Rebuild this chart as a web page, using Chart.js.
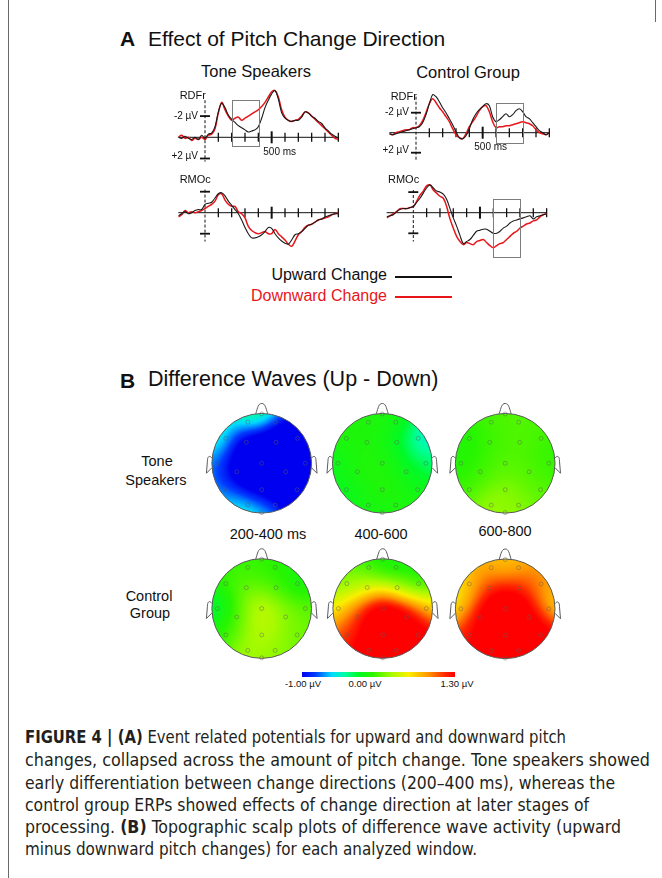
<!DOCTYPE html>
<html>
<head>
<meta charset="utf-8">
<script src="https://cdn.jsdelivr.net/npm/chart.js@4.4.1/dist/chart.umd.min.js"></script>
<style>
  html, body { margin: 0; padding: 0; background: #fff; }
  #fig { position: relative; width: 662px; height: 878px; overflow: hidden;
         font-family: "Liberation Sans", Arial, Helvetica, sans-serif; color: #111; }
  .t { position: absolute; white-space: nowrap; line-height: 1; }
  .c { transform: translate(-50%, -50%); }
  .l { transform: translateY(-50%); }
  .r { transform: translate(-100%, -50%); }
  canvas { position: absolute; }
  .cap { position: absolute; left: 25px; white-space: nowrap; line-height: 1;
         font-family: "Liberation Sans Narrow", "DejaVu Sans Condensed", "Liberation Sans", Arial, sans-serif;
         font-size: 17.5px; color: #231f20; transform-origin: 0 50%; }
  .rule { position: absolute; background: #6a6a6a; width: 1px; }
  .swatch { position: absolute; height: 2.5px; }
</style>
</head>
<body>
<div id="fig">
  <div class="rule" style="left:8px; top:0; height:878px;"></div>
  <div class="rule" style="left:655px; top:0; height:22px;"></div>

  <div class="t l" style="left:120px; top:38px; font-size:21px; font-weight:bold;">A</div>
  <div class="t l" style="left:148px; top:38px; font-size:21px;">Effect of Pitch Change Direction</div>
  <div class="t c" style="left:256px; top:71px; font-size:16.5px;">Tone Speakers</div>
  <div class="t c" style="left:468px; top:72px; font-size:16.5px;">Control Group</div>

  <div class="t r" style="left:387px; top:275px; font-size:16px;">Upward Change</div>
  <div class="swatch" style="left:395px; top:275.5px; width:57px; background:#111;"></div>
  <div class="t r" style="left:387px; top:296px; font-size:16px; color:#e8161b;">Downward Change</div>
  <div class="swatch" style="left:395px; top:295.5px; width:57px; background:#e8161b;"></div>

  <div class="t l" style="left:120px; top:380px; font-size:21px; font-weight:bold;">B</div>
  <div class="t l" style="left:148px; top:380px; font-size:21.5px;">Difference Waves (Up - Down)</div>

  <div class="t c" style="left:157px; top:461px; font-size:14.5px;">Tone</div>
  <div class="t c" style="left:156px; top:480px; font-size:14.5px;">Speakers</div>
  <div class="t c" style="left:149px; top:596px; font-size:14.5px;">Control</div>
  <div class="t c" style="left:150px; top:613px; font-size:14.5px;">Group</div>

  <div class="t c" style="left:268px; top:534px; font-size:14.5px;">200-400 ms</div>
  <div class="t c" style="left:381px; top:534px; font-size:14.5px;">400-600</div>
  <div class="t c" style="left:505px; top:531px; font-size:14.5px;">600-800</div>

  <div class="t c" style="left:303px; top:684px; font-size:9.5px;">-1.00 µV</div>
  <div class="t c" style="left:365px; top:684px; font-size:9.5px;">0.00 µV</div>
  <div class="t c" style="left:457px; top:684px; font-size:9.5px;">1.30 µV</div>

  <div class="cap" data-w="541" style="top:729px;"><b>FIGURE 4 | (A)</b> Event related potentials for upward and downward pitch</div>
  <div class="cap" data-w="625" style="top:752px;">changes, collapsed across the amount of pitch change. Tone speakers showed</div>
  <div class="cap" data-w="590" style="top:775px;">early differentiation between change directions (200–400 ms), whereas the</div>
  <div class="cap" data-w="564" style="top:797px;">control group ERPs showed effects of change direction at later stages of</div>
  <div class="cap" data-w="596" style="top:819px;">processing. <b>(B)</b> Topographic scalp plots of difference wave activity (upward</div>
  <div class="cap" data-w="452" style="top:841px;">minus downward pitch changes) for each analyzed window.</div>
</div>

<script>
// ---------- ERP waveforms (µV, negative plotted upward), sampled every 25 ms ----------
const times = [-200,-175,-150,-125,-100,-75,-50,-25,0,25,50,75,100,125,150,175,200,225,250,275,300,325,350,375,400,
               425,450,475,500,525,550,575,600,625,650,675,700,725,750,775,800,825,850,875,900,925,950,975,1000];

const toneRDFrUp   = [0.0,0.1,-0.1,0.1,0.2,0.0,0.2,-0.2,0.1,-0.3,-0.4,-1.0,-2.4,-3.2,-2.8,-2.1,-1.7,-1.4,-1.1,-0.9,-0.7,-0.5,-0.6,-0.7,-1.0,
                      -1.8,-2.8,-3.5,-4.1,-4.4,-3.6,-2.3,-1.8,-1.6,-1.5,-1.6,-1.6,-1.9,-2.4,-2.3,-2.0,-1.8,-1.5,-1.3,-0.9,-0.6,-0.3,-0.1,0.1];
const toneRDFrDown = [0.0,-0.2,0.1,0.0,0.3,0.1,0.2,0.0,0.2,-0.2,-0.3,-0.8,-2.3,-3.3,-2.6,-2.0,-1.6,-1.8,-1.9,-1.6,-1.8,-2.0,-2.2,-2.4,-2.6,
                      -2.9,-3.3,-3.8,-4.3,-4.4,-3.8,-2.6,-1.9,-1.6,-1.5,-1.6,-1.7,-2.0,-2.4,-2.3,-2.0,-1.7,-1.4,-1.1,-0.8,-0.5,-0.2,0.1,0.2];
const ctrlRDFrUp   = [0.1,0.2,0.1,0.0,-0.1,-0.2,-0.3,-0.4,-0.5,-0.6,-1.0,-1.8,-2.9,-3.8,-3.6,-3.1,-2.5,-2.0,-1.4,-0.8,-0.1,0.5,0.6,0.3,-0.4,
                      -1.3,-1.9,-2.3,-2.6,-2.9,-2.7,-1.6,-1.1,-1.3,-1.6,-1.9,-1.6,-1.8,-2.2,-2.4,-2.1,-1.6,-1.4,-1.0,-0.6,-0.2,0.0,0.2,0.0];
const ctrlRDFrDown = [0.1,0.2,0.0,-0.1,-0.2,-0.3,-0.3,-0.5,-0.5,-0.7,-1.2,-2.0,-2.9,-3.4,-3.0,-2.5,-2.1,-1.6,-1.1,-0.4,0.2,0.5,0.6,0.1,-0.6,
                      -1.1,-1.6,-2.2,-2.6,-2.7,-2.1,-1.1,-0.5,-0.6,-0.6,-0.7,-0.7,-0.8,-0.9,-1.0,-1.1,-1.0,-0.9,-0.7,-0.3,0.0,0.1,0.2,0.0];
const toneRMOcUp   = [0.3,0.1,-0.1,0.1,0.0,-0.2,-0.3,-0.3,-0.8,-0.9,-1.0,-1.4,-1.8,-1.9,-1.6,-1.1,-0.7,-0.3,0.1,0.7,1.4,2.0,2.4,2.4,2.3,
                      2.1,1.8,1.4,1.5,2.0,2.4,2.7,2.9,3.0,2.6,2.1,2.0,1.8,1.5,1.2,1.1,0.9,0.7,0.6,0.4,0.3,0.2,0.1,0.1];
const toneRMOcDown = [0.4,0.2,-0.2,0.0,-0.1,0.0,-0.1,-0.2,-0.4,-0.6,-0.8,-1.1,-1.7,-1.8,-1.2,-0.8,-0.6,-0.6,-0.1,0.1,0.5,1.3,1.7,1.9,2.0,
                      1.9,1.8,2.0,2.0,1.6,2.0,2.3,2.6,3.0,3.2,2.7,2.1,1.8,1.4,1.2,1.1,0.9,0.7,0.6,0.5,0.4,0.2,0.1,0.0];
const ctrlRMOcUp   = [0.4,0.3,0.2,-0.1,-0.3,-0.4,-0.4,-0.5,-0.6,-1.0,-1.4,-1.9,-2.4,-2.7,-2.4,-2.1,-2.0,-1.8,-1.3,-0.4,0.5,1.3,2.2,3.0,2.8,
                      2.6,2.2,1.8,1.7,1.6,1.6,1.8,2.0,2.0,1.8,1.5,1.3,1.0,0.8,0.7,0.6,0.5,0.4,0.3,0.6,0.4,0.3,0.2,0.1];
const ctrlRMOcDown = [0.5,0.3,0.1,-0.1,-0.4,-0.4,-0.4,-0.5,-0.6,-1.1,-1.7,-2.1,-2.6,-2.7,-2.2,-1.9,-1.6,-1.4,-0.6,0.6,1.5,2.3,2.8,3.1,2.9,
                      3.0,3.1,2.8,2.7,2.6,2.9,3.2,3.4,3.2,3.0,2.9,2.6,2.3,2.0,1.8,1.5,1.3,1.1,1.0,0.8,0.7,0.4,0.2,0.1];

// time axis tick marks (ms) and amplitude tick marks (µV)
const timeTicks = [100,200,300,400,500,600,700,800,900,1000];
const voltTicks = [-2, 2];

// analysis windows highlighted with a box: [start ms, end ms, top µV, bottom µV]
const toneRDFrWindow = [200, 400, -3.5, 0.8];
const ctrlRDFrWindow = [600, 800, -3.0, 1.0];
const ctrlRMOcWindow = [600, 800, -1.3, 4.3];

// ---------- scalp maps ----------
const electrodes = ['Fpz','Fp1','Fp2','F7','F3','F4','F8','T7','C3','Cz','C4','T8','P7','Pz','P8','O1','O2','Oz'];
const elecX = [0, -0.28, 0.27, -0.72, -0.31, 0.29, 0.72, -0.89, -0.5, 0, 0.48, 0.875, -0.72, 0, 0.71, -0.28, 0.27, 0];
const elecY = [0.99, 0.825, 0.825, 0.5, 0.42, 0.42, 0.5, 0, -0.17, 0, -0.17, 0, -0.53, -0.53, -0.53, -0.84, -0.84, -0.99];

// difference wave amplitude (µV) per electrode, for each group and window
const tone200_400 = [0.05,-0.3,-0.9,-0.25,-1.6,-1.8,-1.3,-0.6,-1.4,-1.8,-1.8,-1.5,-0.55,-1.5,-1.7,-0.4,-1.0,-0.25];
const tone400_600 = [0.0,0.0,-0.05,0.0,0.0,-0.05,-0.55,-0.1,0.05,0.0,-0.05,-0.3,-0.15,0.05,-0.05,-0.05,0.0,-0.05];
const tone600_800 = [0.15,0.1,0.15,0.0,0.1,0.15,0.1,0.0,0.1,0.15,0.15,0.05,0.1,0.25,0.15,0.35,0.25,0.3];
const ctrl200_400 = [0.1,0.05,0.0,0.05,0.25,0.15,-0.1,-0.3,0.2,0.5,0.3,0.15,0.05,0.45,0.2,0.35,0.25,0.3];
const ctrl400_600 = [0.0,0.05,-0.15,0.2,0.55,0.45,-0.05,0.45,1.3,1.65,1.6,0.6,1.1,1.75,1.5,1.45,1.5,1.3];
const ctrl600_800 = [0.65,0.8,0.8,0.6,1.3,1.3,0.85,0.45,1.6,1.75,1.65,0.55,1.2,1.75,1.5,1.5,1.5,1.1];

// colour scale limits (µV)
const scaleMin = -1.0, scaleMax = 1.3;

// ---------- colour map ----------
const colorStops = [
  [-1.00,   0,   0, 240], [-0.80,   0,  60, 255], [-0.55,   0, 220, 255], [-0.35,   0, 255, 160],
  [-0.15,   0, 250,  40], [ 0.05,  40, 245,   0], [ 0.35, 170, 250,   0], [ 0.60, 250, 240,   0],
  [ 0.90, 255, 150,   0], [ 1.15, 255,  40,   0], [ 1.30, 255,   0,   0]
];
function colorAt(v) {
  if (v <= colorStops[0][0]) return colorStops[0].slice(1);
  for (let i = 1; i < colorStops.length; i++) {
    const a = colorStops[i - 1], b = colorStops[i];
    if (v <= b[0]) {
      const f = (v - a[0]) / (b[0] - a[0]);
      return [a[1] + f * (b[1] - a[1]), a[2] + f * (b[2] - a[2]), a[3] + f * (b[3] - a[3])];
    }
  }
  return colorStops[colorStops.length - 1].slice(1);
}

const fig = document.getElementById('fig');
function addCanvas(left, top, w, h) {
  const cv = document.createElement('canvas');
  cv.width = w; cv.height = h;
  cv.style.left = left + 'px'; cv.style.top = top + 'px';
  cv.style.width = w + 'px'; cv.style.height = h + 'px';
  fig.appendChild(cv);
  return cv;
}

// ---------- ERP axes plugin: baseline, ticks, dashed onset line, labels, window box ----------
const erpAxes = {
  id: 'erpAxes',
  beforeDatasetsDraw(chart, args, o) {
    const ctx = chart.ctx, xs = chart.scales.x, ys = chart.scales.y;
    const X = v => xs.getPixelForValue(v), Y = v => ys.getPixelForValue(v);
    const y0 = Y(0);
    ctx.save();
    ctx.strokeStyle = '#111';
    ctx.lineWidth = 1;
    ctx.beginPath(); ctx.moveTo(X(-200), y0); ctx.lineTo(X(1000), y0); ctx.stroke();
    timeTicks.forEach(t => {
      const big = t === 500;
      ctx.lineWidth = big ? 2 : 1.3;
      const up = big ? 6 : 4.5, dn = big ? 6 : 4.5;
      ctx.beginPath(); ctx.moveTo(X(t), y0 - up); ctx.lineTo(X(t), y0 + dn); ctx.stroke();
    });
    ctx.lineWidth = 1;
    ctx.setLineDash([3, 2]);
    ctx.beginPath(); ctx.moveTo(X(0), Y(o.axisTop)); ctx.lineTo(X(0), Y(o.axisBottom)); ctx.stroke();
    ctx.setLineDash([]);
    ctx.lineWidth = 1.8;
    voltTicks.forEach(v => {
      ctx.beginPath(); ctx.moveTo(X(0) - 5, Y(v)); ctx.lineTo(X(0) + 5, Y(v)); ctx.stroke();
    });
    ctx.fillStyle = '#111';
    ctx.textBaseline = 'middle';
    ctx.font = '11px "Liberation Sans", Arial, sans-serif';
    ctx.textAlign = 'left';
    ctx.fillText(o.site, X(-190), Y(o.siteAt));
    if (o.units) {
      ctx.font = '10px "Liberation Sans", Arial, sans-serif';
      ctx.textAlign = 'right';
      ctx.fillText('-2 µV', X(0) - 7, Y(-2));
      ctx.fillText('+2 µV', X(0) - 7, Y(2) - 2);
      ctx.textAlign = 'center';
      ctx.fillText('500 ms', X(560), y0 + 15);
    }
    ctx.restore();
  },
  afterDatasetsDraw(chart, args, o) {
    if (!o.window) return;
    const ctx = chart.ctx, xs = chart.scales.x, ys = chart.scales.y;
    const [t0, t1, v0, v1] = o.window;
    const x0 = xs.getPixelForValue(t0), x1 = xs.getPixelForValue(t1);
    const y0 = ys.getPixelForValue(v0), y1 = ys.getPixelForValue(v1);
    ctx.save();
    ctx.strokeStyle = '#7d7d7d';
    ctx.lineWidth = 1;
    ctx.strokeRect(Math.round(x0) + 0.5, Math.round(y0) + 0.5, Math.round(x1 - x0), Math.round(y1 - y0));
    ctx.restore();
  }
};

const PX_PER_MS = 0.13333;
function erpChart(geo, up, down, opts) {
  const yMin = -5.2, yMax = 4.8;
  const padL = 42, padR = 8, padT = 6, padB = 6;
  const areaLeft = geo.x0 - 200 * PX_PER_MS;
  const areaTop = geo.base + yMin * geo.k;
  const areaW = 1200 * PX_PER_MS, areaH = (yMax - yMin) * geo.k;
  const left = Math.round(areaLeft - padL), top = Math.round(areaTop - padT);
  const w = Math.ceil(padL + areaW + padR), h = Math.ceil(padT + areaH + padB);
  const pl = areaLeft - left, pt = areaTop - top;
  const cv = addCanvas(left, top, w, h);
  const pts = arr => times.map((t, i) => ({ x: t, y: arr[i] }));
  new Chart(cv, {
    type: 'line',
    data: {
      datasets: [
        { label: 'Upward Change', data: pts(up), borderColor: '#1a1a1a', borderWidth: 1.1,
          pointRadius: 0, tension: 0.35, fill: false },
        { label: 'Downward Change', data: pts(down), borderColor: '#e8161b', borderWidth: 1.5,
          pointRadius: 0, tension: 0.35, fill: false }
      ]
    },
    options: {
      responsive: false, animation: false, devicePixelRatio: 1, events: [],
      layout: { padding: { left: pl, top: pt, right: w - pl - areaW, bottom: h - pt - areaH } },
      scales: {
        x: { type: 'linear', min: -200, max: 1000, display: false },
        y: { type: 'linear', min: yMin, max: yMax, reverse: true, display: false }
      },
      plugins: { legend: { display: false }, tooltip: { enabled: false }, erpAxes: opts }
    },
    plugins: [erpAxes]
  });
}

erpChart({ x0: 205, base: 137.3, k: 10.6 }, toneRDFrUp, toneRDFrDown,
  { site: 'RDFr', siteAt: -3.9, units: true, axisTop: -3.5, axisBottom: 2.3, window: toneRDFrWindow });
erpChart({ x0: 416, base: 132.7, k: 10.0 }, ctrlRDFrUp, ctrlRDFrDown,
  { site: 'RDFr', siteAt: -3.6, units: true, axisTop: -3.6, axisBottom: 2.9, window: ctrlRDFrWindow });
erpChart({ x0: 205, base: 212.7, k: 10.5 }, toneRMOcUp, toneRMOcDown,
  { site: 'RMOc', siteAt: -3.1, units: false, axisTop: -2.2, axisBottom: 2.75, window: null });
erpChart({ x0: 413.3, base: 212.7, k: 10.3 }, ctrlRMOcUp, ctrlRMOcDown,
  { site: 'RMOc', siteAt: -3.2, units: false, axisTop: -2.2, axisBottom: 2.8, window: ctrlRMOcWindow });

// ---------- scalp field plugin: smoothed electrode values inside the head outline ----------
const scalpField = {
  id: 'scalpField',
  beforeDatasetsDraw(chart, args, o) {
    const ctx = chart.ctx, a = chart.chartArea, xs = chart.scales.x, ys = chart.scales.y;
    const X = v => xs.getPixelForValue(v), Y = v => ys.getPixelForValue(v);
    const w = Math.round(a.right - a.left), h = Math.round(a.bottom - a.top);
    const off = document.createElement('canvas');
    off.width = w; off.height = h;
    const octx = off.getContext('2d');
    const img = octx.createImageData(w, h);
    const vals = o.values, n = vals.length, s2 = 2 * 0.3 * 0.3;
    for (let py = 0; py < h; py++) {
      const uy = ys.getValueForPixel(a.top + py + 0.5);
      for (let px = 0; px < w; px++) {
        const ux = xs.getValueForPixel(a.left + px + 0.5);
        if (ux * ux + uy * uy > 1.06) continue;
        let sw = 0, sv = 0;
        for (let i = 0; i < n; i++) {
          const dx = ux - elecX[i], dy = uy - elecY[i];
          const wt = Math.exp(-(dx * dx + dy * dy) / s2);
          sw += wt; sv += wt * vals[i];
        }
        const c = colorAt(sv / sw);
        const k = (py * w + px) * 4;
        img.data[k] = c[0]; img.data[k + 1] = c[1]; img.data[k + 2] = c[2]; img.data[k + 3] = 255;
      }
    }
    octx.putImageData(img, 0, 0);
    const cx = X(0), cy = Y(0), r = X(1) - X(0);
    ctx.save();
    ctx.beginPath(); ctx.arc(cx, cy, r, 0, 2 * Math.PI); ctx.clip();
    ctx.drawImage(off, a.left, a.top);
    ctx.restore();

    ctx.save();
    ctx.strokeStyle = '#5a5a5a';
    ctx.lineWidth = 1;
    ctx.beginPath(); ctx.arc(cx, cy, r, 0, 2 * Math.PI); ctx.stroke();
    // nose
    ctx.beginPath();
    ctx.moveTo(X(-0.12), Y(0.993));
    ctx.bezierCurveTo(X(-0.08), Y(1.12), X(-0.07), Y(1.2), X(0), Y(1.2));
    ctx.bezierCurveTo(X(0.07), Y(1.2), X(0.08), Y(1.12), X(0.12), Y(0.993));
    ctx.stroke();
    // ears
    [-1, 1].forEach(sd => {
      ctx.beginPath();
      ctx.moveTo(X(sd * 0.995), Y(0.1));
      ctx.bezierCurveTo(X(sd * 1.05), Y(0.17), X(sd * 1.09), Y(0.14), X(sd * 1.09), Y(0.04));
      ctx.lineTo(X(sd * 1.11), Y(-0.2));
      ctx.lineTo(X(sd * 1.0), Y(-0.09));
      ctx.stroke();
    });
    ctx.restore();
  }
};

function scalpChart(cx, cy, values) {
  const R = 53.5, S = 140;
  const left = Math.round(cx - S / 2), top = Math.round(cy - S / 2);
  const cv = addCanvas(left, top, S, S);
  // keep the head centre on (cx, cy) despite rounding the canvas position
  const hx = (S / 2) / R, dx = (cx - left - S / 2) / R, dy = (cy - top - S / 2) / R;
  new Chart(cv, {
    type: 'scatter',
    data: {
      datasets: [{
        label: 'electrodes',
        data: elecX.map((x, i) => ({ x: x, y: elecY[i] })),
        pointRadius: 2, pointBorderWidth: 0.8,
        pointBorderColor: 'rgba(95,95,95,0.55)', pointBackgroundColor: 'rgba(0,0,0,0)'
      }]
    },
    options: {
      responsive: false, animation: false, devicePixelRatio: 1, events: [],
      layout: { padding: 0 },
      scales: {
        x: { type: 'linear', min: -hx - dx, max: hx - dx, display: false },
        y: { type: 'linear', min: -hx + dy, max: hx + dy, display: false }
      },
      plugins: { legend: { display: false }, tooltip: { enabled: false }, scalpField: { values: values } }
    },
    plugins: [scalpField]
  });
}

scalpChart(261.7, 463.3, tone200_400);
scalpChart(382.3, 463.3, tone400_600);
scalpChart(505.2, 463.3, tone600_800);
scalpChart(261.7, 608.5, ctrl200_400);
scalpChart(382.7, 608.5, ctrl400_600);
scalpChart(505.2, 608.8, ctrl600_800);

// ---------- colour bar ----------
const colorRamp = {
  id: 'colorRamp',
  beforeDatasetsDraw(chart) {
    const ctx = chart.ctx, a = chart.chartArea, xs = chart.scales.x;
    for (let px = Math.floor(a.left); px < a.right; px++) {
      const c = colorAt(xs.getValueForPixel(px + 0.5));
      ctx.fillStyle = 'rgb(' + Math.round(c[0]) + ',' + Math.round(c[1]) + ',' + Math.round(c[2]) + ')';
      ctx.fillRect(px, a.top, 1, a.bottom - a.top);
    }
  }
};
new Chart(addCanvas(302, 672, 153, 5), {
  type: 'scatter',
  data: { datasets: [{ data: [] }] },
  options: {
    responsive: false, animation: false, devicePixelRatio: 1, events: [],
    layout: { padding: 0 },
    scales: { x: { type: 'linear', min: scaleMin, max: scaleMax, display: false },
              y: { min: 0, max: 1, display: false } },
    plugins: { legend: { display: false }, tooltip: { enabled: false } }
  },
  plugins: [colorRamp]
});

// ---------- caption: fit each line to its column width ----------
document.querySelectorAll('.cap').forEach(el => {
  const target = parseFloat(el.dataset.w);
  const wNow = el.getBoundingClientRect().width;
  el.style.transform = 'scaleX(' + (target / wNow) + ')';
});
</script>
</body>
</html>
